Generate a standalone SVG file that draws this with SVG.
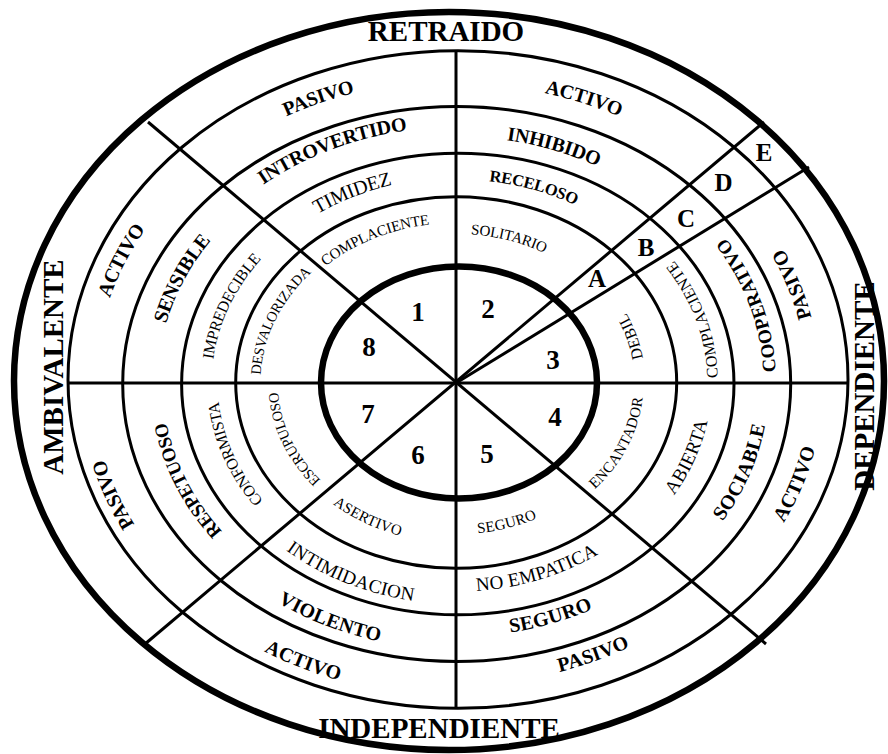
<svg xmlns="http://www.w3.org/2000/svg" width="888" height="754" viewBox="0 0 888 754">
<style>
.ring{fill:none;stroke:#000;stroke-width:3}
.thick{fill:none;stroke:#000;stroke-width:6.5}
.ln{fill:none;stroke:#000;stroke-width:3}
text{font-family:"Liberation Serif","Times New Roman",serif;fill:#000}
.cv{dominant-baseline:central}
.bd{font-weight:bold}
.big{font-size:29px;font-weight:bold}
.num{font-size:27px;font-weight:bold;text-anchor:middle}
.let{font-size:25px;font-weight:bold;text-anchor:middle}
.s20b{font-size:20px;font-weight:bold}
.s19b{font-size:19px;font-weight:bold}
.s16b{font-size:16.5px;font-weight:bold}
.n20{font-size:20px}
.n19{font-size:19px}
.n16{font-size:16px}
.n15{font-size:15px}
.n14{font-size:14.5px}
</style>
<defs>
<path id="p_a" d="M162.7,196.9 A368.3,309.5 0 0 1 501.7,75.8"/>
<path id="p_b" d="M401.7,80.5 A364.1,306 0 0 1 741,191.5"/>
<path id="p_c" d="M805.6,443 A355.8,299 0 0 0 693.2,159.4"/>
<path id="p_d" d="M694.2,609.9 A359.4,302 0 0 0 809.4,323.8"/>
<path id="p_e" d="M418.2,675.7 A350.5,294.5 0 0 0 739.3,557.6"/>
<path id="p_f" d="M155.1,555.4 A365,306.7 0 0 0 483.7,688.9"/>
<path id="p_g" d="M219.8,622.8 A371,311.8 0 0 1 91.3,330.2"/>
<path id="p_h" d="M91.4,423.1 A368.7,309.8 0 0 1 232.9,137"/>
<path id="p_i" d="M201,231.6 A313,263 0 0 1 485,121.1"/>
<path id="p_j" d="M402.8,133.8 A301.4,253.3 0 0 1 686.7,219"/>
<path id="p_k" d="M761,442.2 A312.1,262.3 0 0 0 670.1,191.4"/>
<path id="p_l" d="M654.6,578.4 A305.1,256.4 0 0 0 757.2,337"/>
<path id="p_m" d="M402.3,625.2 A293.3,246.5 0 0 0 679.2,543.9"/>
<path id="p_n" d="M203.2,531 A308.9,259.6 0 0 0 482.6,641.7"/>
<path id="p_o" d="M273.4,583.8 A301.3,253.2 0 0 1 158.3,349.7"/>
<path id="p_p" d="M152.6,412.4 A306.4,257.5 0 0 1 274.5,176.2"/>
<path id="p_q" d="M248.6,263.1 A252.6,212.3 0 0 1 476.3,171.3"/>
<path id="p_r" d="M408.8,177.4 A249.3,209.5 0 0 1 644.7,245.1"/>
<path id="p_s" d="M705.3,431.2 A254.9,214.2 0 0 0 630.9,226.4"/>
<path id="p_t" d="M616,542.4 A247.5,208 0 0 0 700.8,347"/>
<path id="p_u" d="M416.8,581.8 A239.9,201.6 0 0 0 641.7,511.6"/>
<path id="p_v" d="M246.2,502.8 A254.5,213.9 0 0 0 475.1,596.4"/>
<path id="p_w" d="M299.7,541.1 A245.3,206.1 0 0 1 215.4,347.6"/>
<path id="p_x" d="M208.5,414.9 A251.4,211.3 0 0 1 299.8,218.1"/>
<path id="p_y" d="M293.5,291.2 A196.6,165.2 0 0 1 469.9,218.1"/>
<path id="p_z" d="M416.9,232.7 A183.3,154 0 0 1 591.8,278.6"/>
<path id="p_aa" d="M634.5,418 A182.3,153.2 0 0 0 581.9,271.4"/>
<path id="p_bb" d="M565.6,505.2 A181.5,152.5 0 0 0 637.2,365"/>
<path id="p_cc" d="M418.6,525.6 A174,146.2 0 0 0 584.8,482.2"/>
<path id="p_dd" d="M296.9,460.2 A184.6,155.1 0 0 0 456.6,538.1"/>
<path id="p_ee" d="M342.5,504.2 A184.1,154.7 0 0 1 274.9,360.3"/>
<path id="p_ff" d="M257.3,406.3 A201.6,169.4 0 0 1 333.1,249.4"/>
</defs>
<rect width="888" height="754" fill="#fff"/>
<g id="rings">
<ellipse id="ring-outer" class="thick" cx="449" cy="381" rx="435" ry="369"/>
<ellipse id="ring-d" class="ring" cx="458" cy="379.5" rx="390" ry="328.8"/>
<ellipse id="ring-c" class="ring" cx="456.7" cy="384" rx="334" ry="277.5"/>
<ellipse id="ring-b" class="ring" cx="457.8" cy="384" rx="276.2" ry="230.8"/>
<ellipse id="ring-a" class="ring" cx="456.2" cy="382.5" rx="220.5" ry="185.8"/>
</g>
<g id="connectors">
<path class="ln" d="M456,51 V708"/>
<path class="ln" d="M67,383 H848"/>
<path class="ln" d="M148,122 L766,644"/>
<path class="ln" d="M145,644 L764,122"/>
<path class="ln" d="M456,383 L809,167"/>
</g>
<g id="core">
<ellipse class="thick" cx="459" cy="382.5" rx="138" ry="116"/>
</g>
<g id="axis-labels">
<text class="big" x="446" y="41" text-anchor="middle">RETRAIDO</text>
<text class="big" x="439" y="738" text-anchor="middle">INDEPENDIENTE</text>
<text class="big" transform="translate(63,367) rotate(-90)" text-anchor="middle">AMBIVALENTE</text>
<text class="big" transform="translate(874,386) rotate(-90)" text-anchor="middle">DEPENDIENTE</text>
</g>
<g id="sector-numbers">
<text class="num" x="418" y="320.5">1</text>
<text class="num" x="488" y="318">2</text>
<text class="num" x="553" y="369">3</text>
<text class="num" x="555" y="426">4</text>
<text class="num" x="487" y="463">5</text>
<text class="num" x="418" y="464">6</text>
<text class="num" x="368" y="423">7</text>
<text class="num" x="369" y="356">8</text>
</g>
<g id="cell-letters">
<text class="let" x="597" y="286.5">A</text>
<text class="let" x="646" y="256">B</text>
<text class="let" x="686" y="226.5">C</text>
<text class="let" x="723.5" y="190.7">D</text>
<text class="let" x="764" y="161">E</text>
</g>
<g id="band-0">
<text class="cv n15"><textPath href="#p_y" startOffset="50%" text-anchor="middle">COMPLACIENTE</textPath></text>
<text class="cv n15"><textPath href="#p_z" startOffset="50%" text-anchor="middle">SOLITARIO</textPath></text>
<text class="cv n16"><textPath href="#p_aa" startOffset="50%" text-anchor="middle">DEBIL</textPath></text>
<text class="cv n15"><textPath href="#p_bb" startOffset="50%" text-anchor="middle">ENCANTADOR</textPath></text>
<text class="cv n15"><textPath href="#p_cc" startOffset="50%" text-anchor="middle">SEGURO</textPath></text>
<text class="cv n15"><textPath href="#p_dd" startOffset="50%" text-anchor="middle">ASERTIVO</textPath></text>
<text class="cv n14"><textPath href="#p_ee" startOffset="50%" text-anchor="middle">ESCRUPULOSO</textPath></text>
<text class="cv n14"><textPath href="#p_ff" startOffset="50%" text-anchor="middle">DESVALORIZADA</textPath></text>
</g>
<g id="band-1">
<text class="cv n20"><textPath href="#p_q" startOffset="50%" text-anchor="middle">TIMIDEZ</textPath></text>
<text class="cv s16b"><textPath href="#p_r" startOffset="50%" text-anchor="middle">RECELOSO</textPath></text>
<text class="cv n16"><textPath href="#p_s" startOffset="50%" text-anchor="middle">COMPLACIENTE</textPath></text>
<text class="cv n19"><textPath href="#p_t" startOffset="50%" text-anchor="middle">ABIERTA</textPath></text>
<text class="cv n19"><textPath href="#p_u" startOffset="50%" text-anchor="middle">NO EMPATICA</textPath></text>
<text class="cv n19"><textPath href="#p_v" startOffset="50%" text-anchor="middle">INTIMIDACION</textPath></text>
<text class="cv n16"><textPath href="#p_w" startOffset="50%" text-anchor="middle">CONFORMISTA</textPath></text>
<text class="cv n16"><textPath href="#p_x" startOffset="50%" text-anchor="middle">IMPREDECIBLE</textPath></text>
</g>
<g id="band-2">
<text class="cv s20b"><textPath href="#p_i" startOffset="50%" text-anchor="middle">INTROVERTIDO</textPath></text>
<text class="cv s20b"><textPath href="#p_j" startOffset="50%" text-anchor="middle">INHIBIDO</textPath></text>
<text class="cv s19b"><textPath href="#p_k" startOffset="50%" text-anchor="middle">COOPERATIVO</textPath></text>
<text class="cv s20b"><textPath href="#p_l" startOffset="50%" text-anchor="middle">SOCIABLE</textPath></text>
<text class="cv s20b"><textPath href="#p_m" startOffset="50%" text-anchor="middle">SEGURO</textPath></text>
<text class="cv s20b"><textPath href="#p_n" startOffset="50%" text-anchor="middle">VIOLENTO</textPath></text>
<text class="cv s19b"><textPath href="#p_o" startOffset="50%" text-anchor="middle">RESPETUOSO</textPath></text>
<text class="cv s20b"><textPath href="#p_p" startOffset="50%" text-anchor="middle">SENSIBLE</textPath></text>
</g>
<g id="band-3">
<text class="cv s20b"><textPath href="#p_a" startOffset="50%" text-anchor="middle">PASIVO</textPath></text>
<text class="cv s20b"><textPath href="#p_b" startOffset="50%" text-anchor="middle">ACTIVO</textPath></text>
<text class="cv s20b"><textPath href="#p_c" startOffset="50%" text-anchor="middle">PASIVO</textPath></text>
<text class="cv s20b"><textPath href="#p_d" startOffset="50%" text-anchor="middle">ACTIVO</textPath></text>
<text class="cv s20b"><textPath href="#p_e" startOffset="50%" text-anchor="middle">PASIVO</textPath></text>
<text class="cv s20b"><textPath href="#p_f" startOffset="50%" text-anchor="middle">ACTIVO</textPath></text>
<text class="cv s20b"><textPath href="#p_g" startOffset="50%" text-anchor="middle">PASIVO</textPath></text>
<text class="cv s20b"><textPath href="#p_h" startOffset="50%" text-anchor="middle">ACTIVO</textPath></text>
</g>
</svg>
